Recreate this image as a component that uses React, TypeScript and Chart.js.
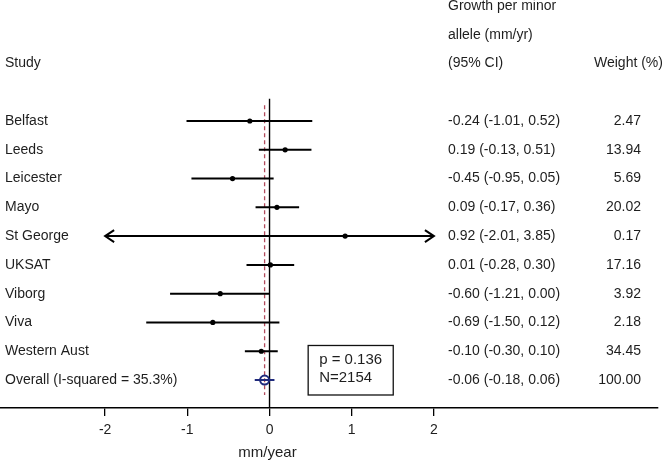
import React, { useEffect, useRef } from "react";
import { Chart, registerables } from "chart.js";

Chart.register(...registerables);

// ---- data ----
const studies = ["Belfast", "Leeds", "Leicester", "Mayo", "St George", "UKSAT", "Viborg", "Viva", "Western Aust"];
const estimates = [-0.24, 0.19, -0.45, 0.09, 0.92, 0.01, -0.6, -0.69, -0.1];
const lowerCI = [-1.01, -0.13, -0.95, -0.17, -2.01, -0.28, -1.21, -1.5, -0.3];
const upperCI = [0.52, 0.51, 0.05, 0.36, 3.85, 0.3, 0.0, 0.12, 0.1];
const weights = [2.47, 13.94, 5.69, 20.02, 0.17, 17.16, 3.92, 2.18, 34.45];

const overallLabel = "Overall (I-squared = 35.3%)";
const overallEstimate = -0.06;
const overallLower = -0.18;
const overallUpper = 0.06;
const overallWeight = 100.0;

const xTicks = [-2, -1, 0, 1, 2];
const xTitle = "mm/year";
const studyHeader = "Study";
const effectHeader = ["Growth per minor", "allele (mm/yr)", "(95% CI)"];
const weightHeader = "Weight (%)";
const boxLines = ["p = 0.136", "N=2154"];

// ---- styles ----
const FONT = "'Liberation Sans', Arial, Helvetica, sans-serif";
const TEXT = "#1e1e1e";
const NAVY = "#1f2a7c";
const RED = "#b24a5c";

const clipMin = Math.min(...xTicks);
const clipMax = Math.max(...xTicks);

const fmt = (v: number) => v.toFixed(2);

const overlayPlugin = {
  id: "forestOverlay",
  afterDraw(chart: any) {
    const { ctx } = chart;
    const xs = chart.scales.x;
    const ys = chart.scales.y;
    const rowY = (r: number) => ys.getPixelForValue(r);
    ctx.save();
    ctx.fillStyle = TEXT;
    ctx.textBaseline = "middle";
    ctx.font = `14px ${FONT}`;

    // headers
    ctx.textAlign = "left";
    ctx.fillText(studyHeader, 5, rowY(-2));
    effectHeader.forEach((t, i) => ctx.fillText(t, 448, rowY(-4 + i)));
    ctx.fillText(weightHeader, 594, rowY(-2));

    // rows
    studies.forEach((s, i) => {
      ctx.textAlign = "left";
      ctx.fillText(s, 5, rowY(i));
      ctx.fillText(`${fmt(estimates[i])} (${fmt(lowerCI[i])}, ${fmt(upperCI[i])})`, 448, rowY(i));
      ctx.textAlign = "right";
      ctx.fillText(fmt(weights[i]), 641, rowY(i));
    });
    const oRow = studies.length;
    ctx.textAlign = "left";
    ctx.fillText(overallLabel, 5, rowY(oRow));
    ctx.fillText(`${fmt(overallEstimate)} (${fmt(overallLower)}, ${fmt(overallUpper)})`, 448, rowY(oRow));
    ctx.textAlign = "right";
    ctx.fillText(fmt(overallWeight), 641, rowY(oRow));

    // arrowheads for clipped CIs
    ctx.strokeStyle = "#000";
    ctx.lineWidth = 2;
    const head = 9;
    const spread = 6;
    studies.forEach((_, i) => {
      const y = rowY(i);
      if (lowerCI[i] < clipMin) {
        const x = xs.getPixelForValue(clipMin);
        ctx.beginPath();
        ctx.moveTo(x + head, y - spread);
        ctx.lineTo(x, y);
        ctx.lineTo(x + head, y + spread);
        ctx.stroke();
      }
      if (upperCI[i] > clipMax) {
        const x = xs.getPixelForValue(clipMax);
        ctx.beginPath();
        ctx.moveTo(x - head, y - spread);
        ctx.lineTo(x, y);
        ctx.lineTo(x - head, y + spread);
        ctx.stroke();
      }
    });

    // annotation box
    const bx0 = xs.getPixelForValue(0.47);
    const bx1 = xs.getPixelForValue(1.505);
    const by0 = rowY(7.8);
    const by1 = rowY(9.52);
    ctx.lineWidth = 1.3;
    ctx.strokeStyle = "#111";
    ctx.strokeRect(bx0, by0, bx1 - bx0, by1 - by0);
    ctx.font = `15px ${FONT}`;
    ctx.textAlign = "left";
    ctx.fillText(boxLines[0], bx0 + 11, rowY(8.3));
    ctx.fillText(boxLines[1], bx0 + 11, rowY(8.92));

    // axis title
    ctx.textAlign = "center";
    ctx.font = `15px ${FONT}`;
    ctx.fillText(xTitle, xs.getPixelForValue((clipMin + clipMax) / 2) - 2, 453);
    ctx.restore();
  },
};

export default function App() {
  const ref = useRef<HTMLCanvasElement | null>(null);
  useEffect(() => {
    if (!ref.current) return;
    const ciSets = studies.map((_, i) => ({
      type: "line" as const,
      data: [
        { x: Math.max(lowerCI[i], clipMin), y: i },
        { x: Math.min(upperCI[i], clipMax), y: i },
      ],
      borderColor: "#000",
      borderWidth: 2,
      pointRadius: 0,
      showLine: true,
    }));
    const oRow = studies.length;
    const chart = new Chart(ref.current, {
      type: "scatter",
      data: {
        datasets: [
          {
            type: "scatter",
            data: [{ x: overallEstimate, y: oRow }],
            pointStyle: "circle",
            pointRadius: 4.5,
            borderColor: NAVY,
            borderWidth: 2,
            backgroundColor: "rgba(0,0,0,0)",
          },
          {
            type: "scatter",
            data: estimates.map((v, i) => ({ x: v, y: i })),
            pointRadius: 2.6,
            backgroundColor: "#000",
            borderWidth: 0,
          },
          {
            type: "line",
            data: [
              { x: overallLower, y: oRow },
              { x: overallUpper, y: oRow },
            ],
            borderColor: NAVY,
            borderWidth: 2,
            pointRadius: 0,
            showLine: true,
          },
          ...ciSets,
          {
            type: "line",
            data: [
              { x: overallEstimate, y: -0.55 },
              { x: overallEstimate, y: 9.52 },
            ],
            borderColor: RED,
            borderWidth: 1.3,
            borderDash: [4, 3],
            pointRadius: 0,
            showLine: true,
          },
          {
            type: "line",
            data: [
              { x: 0, y: -0.77 },
              { x: 0, y: 10.2 },
            ],
            borderColor: "#000",
            borderWidth: 1.4,
            pointRadius: 0,
            showLine: true,
          },
        ] as any,
      },
      options: {
        animation: false,
        responsive: false,
        devicePixelRatio: 1,
        layout: { autoPadding: false, padding: { left: 0, right: 8, top: 0, bottom: 0 } },
        plugins: { legend: { display: false }, tooltip: { enabled: false }, title: { display: false } },
        scales: {
          x: {
            type: "linear",
            min: -3.279,
            max: 4.726,
            position: "bottom",
            afterBuildTicks: (s: any) => {
              s.ticks = xTicks.map((v) => ({ value: v }));
            },
            afterFit: (s: any) => {
              s.height = 54;
              s.paddingLeft = 0;
              s.paddingRight = 0;
              s.paddingTop = 0;
              s.paddingBottom = 0;
            },
            grid: { drawOnChartArea: false, drawTicks: true, tickLength: 8, color: "#000", lineWidth: 1.3 },
            border: { display: true, color: "#000", width: 1.4 },
            ticks: {
              font: { family: FONT, size: 14 },
              color: TEXT,
              padding: 6,
              maxRotation: 0,
              autoSkip: false,
              callback: (v: any) => String(v),
            },
          },
          y: {
            type: "linear",
            display: false,
            reverse: true,
            min: -4.204,
            max: 9.972,
            afterFit: (s: any) => {
              s.paddingLeft = 0;
              s.paddingRight = 0;
              s.paddingTop = 0;
              s.paddingBottom = 0;
            },
          },
        },
      } as any,
      plugins: [overlayPlugin],
    });
    return () => chart.destroy();
  }, []);
  return (
    <div style={{ position: "fixed", left: 0, top: 0, width: 666, height: 462, background: "#fff" }}>
      <canvas ref={ref} width={666} height={462} style={{ width: 666, height: 462 }} />
    </div>
  );
}
